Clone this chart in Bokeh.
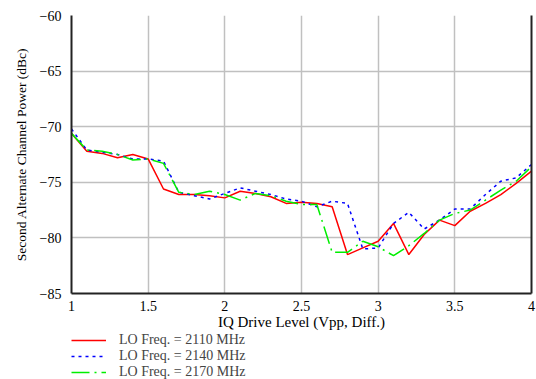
from bokeh.plotting import figure
from bokeh.layouts import column
from bokeh.models import Legend, LegendItem, LinearAxis, FixedTicker, Range1d
from bokeh.embed import file_html
from bokeh.resources import INLINE

drive = [round(1.0 + 0.1 * i, 1) for i in range(31)]
lo_2110 = [-70.6, -72.2, -72.4, -72.8, -72.5, -72.9, -75.6, -76.1, -76.1, -76.2,
           -76.4, -75.8, -76.0, -76.3, -76.9, -76.8, -76.9, -77.2, -81.5, -80.9,
           -80.3, -78.7, -81.5, -79.7, -78.4, -78.9, -77.6, -76.9, -76.1, -75.1, -74.0]
lo_2140 = [-70.2, -72.1, -72.3, -72.5, -72.9, -72.9, -73.1, -75.9, -76.2, -76.5,
           -76.0, -75.5, -75.8, -76.1, -76.5, -76.7, -77.2, -76.7, -76.9, -81.0,
           -80.9, -78.7, -77.7, -79.2, -78.4, -77.4, -77.4, -76.1, -74.9, -74.6, -73.4]
lo_2170 = [-70.6, -72.1, -72.2, -72.5, -73.0, -72.9, -73.3, -75.9, -76.1, -75.8,
           -76.1, -76.6, -76.0, -76.2, -76.7, -77.0, -77.0, -81.3, -81.3, -80.3,
           -80.8, -81.6, -80.7, -79.6, -78.4, -77.8, -77.5, -76.6, -75.7, -74.9, -73.6]
x_ticks = [1, 1.5, 2, 2.5, 3, 3.5, 4]
x_tick_labels = ["1", "1.5", "2", "2.5", "3", "3.5", "4"]
y_ticks = [-85, -80, -75, -70, -65, -60]
y_tick_labels = ["\u221285", "\u221280", "\u221275", "\u221270", "\u221265", "\u221260"]
series_labels = ["LO Freq. = 2110 MHz", "LO Freq. = 2140 MHz", "LO Freq. = 2170 MHz"]

FONT = "Liberation Serif"
STYLES = [dict(line_color="#ff0000", line_width=1.5),
          dict(line_color="#0000ff", line_width=1.5, line_dash="3 4"),
          dict(line_color="#00ee00", line_width=1.5, line_dash="18 5 2 5")]

p = figure(width=536, height=332, output_backend="svg", toolbar_location=None,
           x_range=Range1d(1, 4), y_range=Range1d(-85, -60),
           min_border_left=71, min_border_right=5, min_border_top=15, min_border_bottom=0)
p.outline_line_color = None
p.background_fill_color = "white"

for ax, ticks, labels in ((p.xaxis[0], x_ticks, x_tick_labels), (p.yaxis[0], y_ticks, y_tick_labels)):
    ax.ticker = FixedTicker(ticks=ticks)
    ax.major_label_overrides = {t: l for t, l in zip(ticks, labels)}
    ax.major_tick_line_color = None
    ax.minor_tick_line_color = None
    ax.axis_line_color = "#222222"
    ax.axis_line_width = 2
    ax.major_label_text_font = FONT
    ax.major_label_text_font_size = "14px"
    ax.major_label_text_color = "black"
    ax.axis_label_text_font = FONT
    ax.axis_label_text_font_style = "normal"
    ax.axis_label_text_color = "black"

p.xaxis.major_label_standoff = 1
p.yaxis.major_label_standoff = 4
p.xaxis.axis_label = "IQ Drive Level (Vpp, Diff.)"
p.xaxis.axis_label_text_font_size = "15px"
p.xaxis.axis_label_standoff = 0
p.yaxis.axis_label = "Second Alternate Channel Power (dBc)"
p.yaxis.axis_label_text_font_size = "13.5px"
p.yaxis.axis_label_standoff = 8

right = LinearAxis(ticker=FixedTicker(ticks=[]), major_label_text_font_size="0px",
                   major_tick_line_color=None, minor_tick_line_color=None,
                   axis_line_color="#222222", axis_line_width=2)
p.add_layout(right, "right")

p.xgrid.ticker = FixedTicker(ticks=x_ticks)
p.ygrid.ticker = FixedTicker(ticks=y_ticks)
p.grid.grid_line_color = "#c0c0c0"
p.grid.grid_line_width = 1.5

for ys, st in zip((lo_2110, lo_2140, lo_2170), STYLES):
    p.line(drive, ys, **st)

# legend panel below the chart (its lines lie outside its visible range)
q = figure(width=536, height=47, output_backend="svg", toolbar_location=None,
           x_axis_type=None, y_axis_type=None, x_range=Range1d(1, 4), y_range=Range1d(0, 1),
           min_border_left=70, min_border_right=0, min_border_top=0, min_border_bottom=0)
q.outline_line_color = None
q.grid.visible = False
items = []
for ys, lab, st in zip((lo_2110, lo_2140, lo_2170), series_labels, STYLES):
    r = q.line(drive, ys, **st)
    items.append(LegendItem(label=lab, renderers=[r]))
legend = Legend(items=items, location="top_left", orientation="vertical",
                label_text_font=FONT, label_text_font_size="14px",
                glyph_width=35, glyph_height=14, label_height=14, spacing=0,
                padding=0, margin=0, label_standoff=13,
                border_line_color=None, background_fill_alpha=0)
q.add_layout(legend)

layout = column(p, q, spacing=0)
open("out.html", "w").write(file_html(layout, INLINE))
